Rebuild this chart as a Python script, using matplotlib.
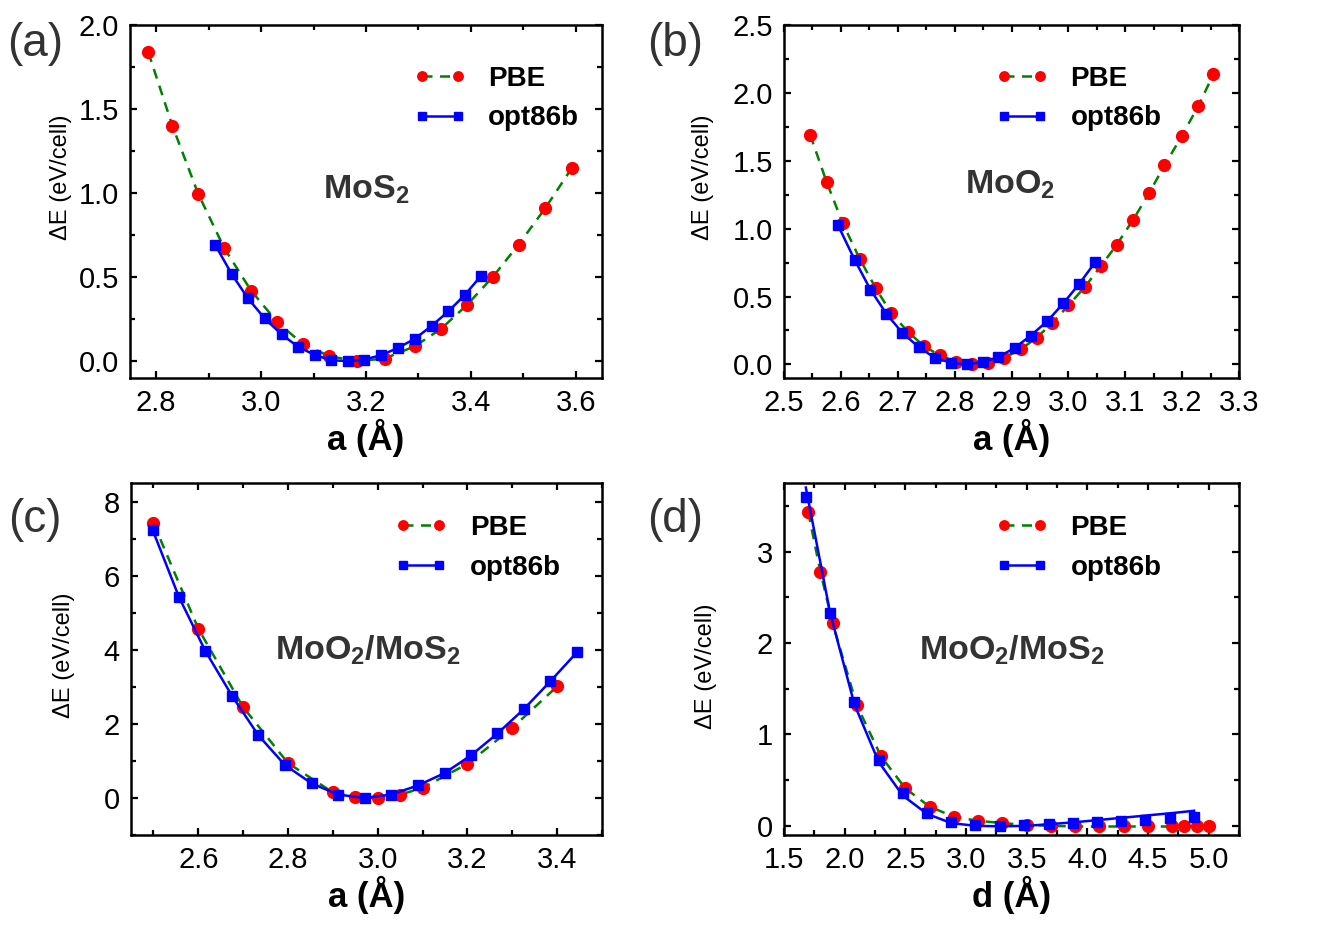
import matplotlib
matplotlib.use('Agg')
from matplotlib import pyplot as plt
from matplotlib.ticker import MultipleLocator

plt.rcParams['font.family'] = ['Liberation Sans', 'DejaVu Sans']
plt.rcParams['mathtext.fontset'] = 'custom'
plt.rcParams['mathtext.rm'] = 'Liberation Sans'
plt.rcParams['mathtext.bf'] = 'Liberation Sans:bold'

#%% data

# (a) MoS2
a_pbe_x = [2.785, 2.831, 2.880, 2.930, 2.981, 3.031, 3.080, 3.130, 3.183, 3.236,
           3.293, 3.343, 3.392, 3.442, 3.491, 3.542, 3.592]
a_pbe_y = [1.837, 1.399, 0.996, 0.671, 0.419, 0.232, 0.101, 0.030, 0.000, 0.016,
           0.089, 0.192, 0.333, 0.502, 0.694, 0.911, 1.147]
a_opt_x = [2.912, 2.944, 2.975, 3.007, 3.039, 3.071, 3.103, 3.134, 3.165, 3.197,
           3.229, 3.261, 3.293, 3.325, 3.357, 3.388, 3.419]
a_opt_y = [0.694, 0.518, 0.373, 0.254, 0.159, 0.085, 0.036, 0.006, 0.000, 0.010,
           0.036, 0.079, 0.133, 0.210, 0.296, 0.393, 0.506]

# (b) MoO2
b_pbe_x = [2.546, 2.575, 2.603, 2.633, 2.661, 2.688, 2.718, 2.746, 2.774, 2.802,
           2.831, 2.859, 2.887, 2.916, 2.944, 2.972, 3.000, 3.029, 3.057, 3.085,
           3.114, 3.142, 3.169, 3.199, 3.228, 3.255]
b_pbe_y = [1.691, 1.343, 1.042, 0.779, 0.564, 0.380, 0.240, 0.135, 0.066, 0.020,
           0.000, 0.012, 0.049, 0.110, 0.196, 0.306, 0.434, 0.571, 0.723, 0.882,
           1.066, 1.262, 1.466, 1.679, 1.900, 2.137]
b_opt_x = [2.595, 2.624, 2.652, 2.680, 2.708, 2.737, 2.765, 2.794, 2.822, 2.850,
           2.877, 2.906, 2.934, 2.963, 2.991, 3.019, 3.047]
b_opt_y = [1.025, 0.772, 0.551, 0.373, 0.233, 0.127, 0.049, 0.012, 0.000, 0.017,
           0.054, 0.123, 0.213, 0.319, 0.449, 0.593, 0.752]

# (c) MoO2/MoS2 lattice
c_pbe_x = [2.50, 2.60, 2.70, 2.80, 2.90, 2.95, 3.00, 3.05, 3.10, 3.20, 3.30, 3.40]
c_pbe_y = [7.42, 4.57, 2.45, 0.94, 0.15, 0.02, 0.00, 0.09, 0.27, 0.92, 1.89, 3.01]
c_opt_x = [2.498, 2.557, 2.616, 2.676, 2.734, 2.793, 2.853, 2.912, 2.971, 3.030,
           3.090, 3.149, 3.208, 3.267, 3.326, 3.385, 3.444]
c_opt_y = [7.24, 5.42, 3.96, 2.74, 1.69, 0.89, 0.39, 0.09, 0.00, 0.09,
           0.34, 0.67, 1.15, 1.74, 2.40, 3.15, 3.93]

# (d) MoO2/MoS2 interlayer distance
d_pbe_x = [1.7, 1.8, 1.9, 2.1, 2.3, 2.5, 2.7, 2.9, 3.1, 3.3, 3.5, 3.7, 3.9,
           4.1, 4.3, 4.5, 4.7, 4.8, 4.9, 5.0]
d_pbe_y = [3.43, 2.78, 2.22, 1.32, 0.76, 0.41, 0.21, 0.10, 0.055, 0.03, 0.01,
           0.0, -0.007, -0.007, -0.007, -0.007, -0.007, 0.0, 0.0, 0.0]
d_opt_x = [1.679, 1.877, 2.078, 2.282, 2.477, 2.678, 2.876, 3.077, 3.278, 3.479,
           3.680, 3.878, 4.079, 4.280, 4.478, 4.679, 4.877]
d_opt_y = [3.60, 2.33, 1.36, 0.72, 0.36, 0.14, 0.047, 0.011, 0.0, 0.007,
           0.018, 0.036, 0.047, 0.055, 0.066, 0.084, 0.095]
# fitted opt86b curve in (d) (drawn as a line, sits above the points at large d)
d_fit_x = [1.68, 1.88, 2.08, 2.28, 2.48, 2.68, 2.88, 3.08, 3.28, 3.50, 3.70,
           3.90, 4.10, 4.30, 4.50, 4.70, 4.88]
d_fit_y = [3.70, 2.33, 1.33, 0.70, 0.33, 0.13, 0.03, 0.0, -0.005, 0.0, 0.02,
           0.04, 0.065, 0.09, 0.115, 0.14, 0.165]

#%%

fig = plt.figure(figsize=(13.3, 9.33), dpi=100)

boxes = {
    'a': [130 / 1330, 1 - 378 / 933, 472 / 1330, 353 / 933],
    'b': [784 / 1330, 1 - 378 / 933, 455 / 1330, 353 / 933],
    'c': [131 / 1330, 1 - 835 / 933, 471 / 1330, 352 / 933],
    'd': [784 / 1330, 1 - 835 / 933, 455 / 1330, 352 / 933],
}

PBE = dict(color='green', ls=(0, (4, 3)), lw=1.8, marker='o', ms=8.5,
           mfc='red', mec='red', label='PBE')
OPT = dict(color='blue', ls='-', lw=1.8, marker='s', ms=7.5,
           mfc='blue', mec='blue', label='opt86b')
LEG = dict(loc='upper left', frameon=False, numpoints=2, markerscale=0.8,
           handlelength=1.9, handletextpad=0.8, labelspacing=0.5,
           borderaxespad=0, borderpad=0, prop={'weight': 'bold', 'size': 20})
LABEL = dict(fontsize=24.5, ha='center', va='center', color='#333333')


def style(ax, xlim, ylim, xmaj, xmin, ymaj, ymin, xlabel, ylab_pos):
    ax.set_xlim(*xlim)
    ax.set_ylim(*ylim)
    ax.xaxis.set_major_locator(MultipleLocator(xmaj))
    ax.xaxis.set_minor_locator(MultipleLocator(xmin))
    ax.yaxis.set_major_locator(MultipleLocator(ymaj))
    ax.yaxis.set_minor_locator(MultipleLocator(ymin))
    ax.tick_params(which='both', direction='in', top=True, right=True, width=1.6,
                   labelsize=21, pad=8)
    ax.tick_params(which='major', length=5)
    ax.tick_params(which='minor', length=3.5)
    for s in ax.spines.values():
        s.set_linewidth(1.8)
    ax.set_xlabel(xlabel, fontsize=25, fontweight='bold', labelpad=1)
    ax.set_ylabel('ΔE (eV/cell)', fontsize=17)
    ax.yaxis.set_label_coords(*ylab_pos)


# (a)
ax = fig.add_axes(boxes['a'])
ax.plot(a_pbe_x, a_pbe_y, **PBE)
ax.plot(a_opt_x, a_opt_y, **OPT)
style(ax, (2.75, 3.65), (-0.1, 2.0), 0.2, 0.1, 0.5, 0.25, 'a (Å)', (-0.123, 0.57))
ax.yaxis.set_major_formatter('{x:.1f}')
ax.text(0.50, 0.533, r'$\mathbf{MoS_2}$', transform=ax.transAxes, **LABEL)
ax.legend(bbox_to_anchor=(0.6, 0.885), **LEG)

# (b)
ax = fig.add_axes(boxes['b'])
ax.plot(b_pbe_x, b_pbe_y, **PBE)
ax.plot(b_opt_x, b_opt_y, **OPT)
style(ax, (2.5, 3.3), (-0.1, 2.5), 0.1, 0.05, 0.5, 0.25, 'a (Å)', (-0.154, 0.57))
ax.yaxis.set_major_formatter('{x:.1f}')
ax.text(0.497, 0.547, r'$\mathbf{MoO_2}$', transform=ax.transAxes, **LABEL)
ax.legend(bbox_to_anchor=(0.465, 0.885), **LEG)

# (c)
ax = fig.add_axes(boxes['c'])
ax.plot(c_pbe_x, c_pbe_y, **PBE)
ax.plot(c_opt_x, c_opt_y, **OPT)
style(ax, (2.45, 3.5), (-1, 8.5), 0.2, 0.1, 2, 1, 'a (Å)', (-0.119, 0.51))
ax.text(0.503, 0.525, r'$\mathbf{MoO_2/MoS_2}$', transform=ax.transAxes, **LABEL)
ax.legend(bbox_to_anchor=(0.56, 0.91), **LEG)

# (d)
ax = fig.add_axes(boxes['d'])
ax.plot(d_pbe_x, d_pbe_y, **PBE)
ax.plot(d_fit_x, d_fit_y, color='blue', lw=1.8)
ax.plot(d_opt_x, d_opt_y, ls='none', marker='s', ms=7.5, color='blue')
opt_handle, = ax.plot([], [], **OPT)
style(ax, (1.5, 5.25), (-0.1, 3.75), 0.5, 0.25, 1, 0.5, 'd (Å)', (-0.147, 0.48))
ax.xaxis.set_major_formatter('{x:.1f}')
ax.text(0.50, 0.525, r'$\mathbf{MoO_2/MoS_2}$', transform=ax.transAxes, **LABEL)
ax.legend([ax.lines[0], opt_handle], ['PBE', 'opt86b'],
          bbox_to_anchor=(0.465, 0.91), **LEG)

for lab, (x, y) in zip('abcd', [(35, 44), (675, 44), (35, 520), (675, 520)]):
    fig.text(x / 1330, 1 - y / 933, f'({lab})', fontsize=33, color='#333333',
             ha='center', va='center')

plt.savefig('out.png', dpi=100)
